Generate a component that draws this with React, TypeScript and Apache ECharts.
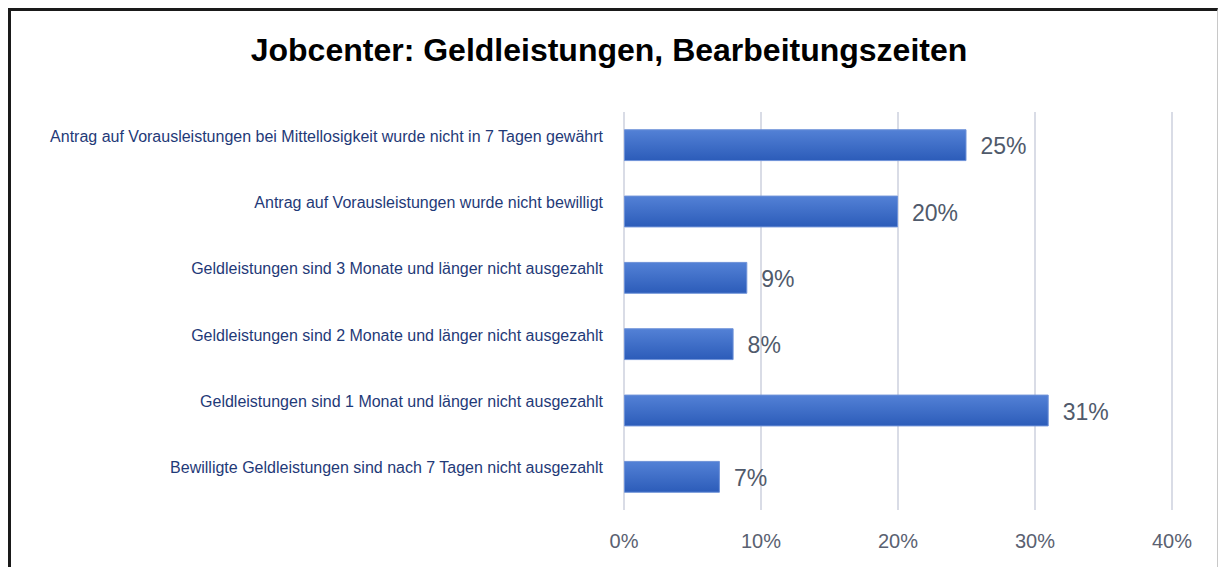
import React, { useEffect, useRef } from "react";
import * as echarts from "echarts";

const categories = [
  "Antrag auf Vorausleistungen bei Mittellosigkeit wurde nicht in 7 Tagen gewährt",
  "Antrag auf Vorausleistungen wurde nicht bewilligt",
  "Geldleistungen sind 3 Monate und länger nicht ausgezahlt",
  "Geldleistungen sind 2 Monate und länger nicht ausgezahlt",
  "Geldleistungen sind 1 Monat und länger nicht ausgezahlt",
  "Bewilligte Geldleistungen sind nach 7 Tagen nicht ausgezahlt",
];
const values = [25, 20, 9, 8, 31, 7];
const titleText = "Jobcenter: Geldleistungen, Bearbeitungszeiten";

export default function App() {
  const ref = useRef<HTMLDivElement>(null);
  useEffect(() => {
    if (!ref.current) return;
    const chart = echarts.init(ref.current, undefined, { renderer: "svg" });
    chart.setOption({
      animation: false,
      backgroundColor: "#ffffff",
      title: {
        text: titleText,
        left: "center",
        top: 29,
        textStyle: {
          fontFamily: "Liberation Sans",
          fontWeight: "bold",
          fontSize: 32,
          color: "#000000",
        },
      },
      grid: { left: 624, right: 46, top: 112, bottom: 57 },
      xAxis: {
        type: "value",
        min: 0,
        max: 40,
        interval: 10,
        axisLine: { show: false },
        axisTick: { show: false },
        splitLine: { show: true, lineStyle: { color: "#d9dce6", width: 2 } },
        axisLabel: {
          formatter: "{value}%",
          fontFamily: "Liberation Sans",
          fontSize: 20,
          color: "#5a6171",
          margin: 21,
        },
      },
      yAxis: {
        type: "category",
        data: categories,
        inverse: true,
        axisLine: { show: false },
        axisTick: { show: false },
        axisLabel: {
          fontFamily: "Liberation Sans",
          fontSize: 16,
          color: "#1f3a78",
          margin: 21,
          verticalAlign: "bottom",
          lineHeight: 18,
        },
      },
      series: [
        {
          type: "bar",
          data: values,
          barWidth: "48%",
          itemStyle: {
            color: new echarts.graphic.LinearGradient(0, 0, 0, 1, [
              { offset: 0, color: "#5381d6" },
              { offset: 1, color: "#2c5cb9" },
            ]),
            borderColor: "#6e92d8",
            borderWidth: 1,
          },
          label: {
            show: true,
            position: "right",
            distance: 14,
            formatter: "{c}%",
            fontFamily: "Liberation Sans",
            fontSize: 23,
            color: "#505a6b",
            offset: [0, 1],
          },
        },
      ],
    });
    return () => chart.dispose();
  }, []);
  return (
    <div style={{ position: "absolute", left: 0, top: 0, width: 1218, height: 567, background: "#fff", overflow: "hidden" }}>
      <div ref={ref} style={{ position: "absolute", left: 0, top: 0, width: 1218, height: 567 }} />
      <div
        style={{
          position: "absolute",
          left: 8,
          top: 8,
          width: 1206,
          height: 600,
          borderTop: "3px solid #1a1a1a",
          borderLeft: "3px solid #1a1a1a",
          borderRight: "1px solid #c8c8c8",
          pointerEvents: "none",
        }}
      />
    </div>
  );
}
